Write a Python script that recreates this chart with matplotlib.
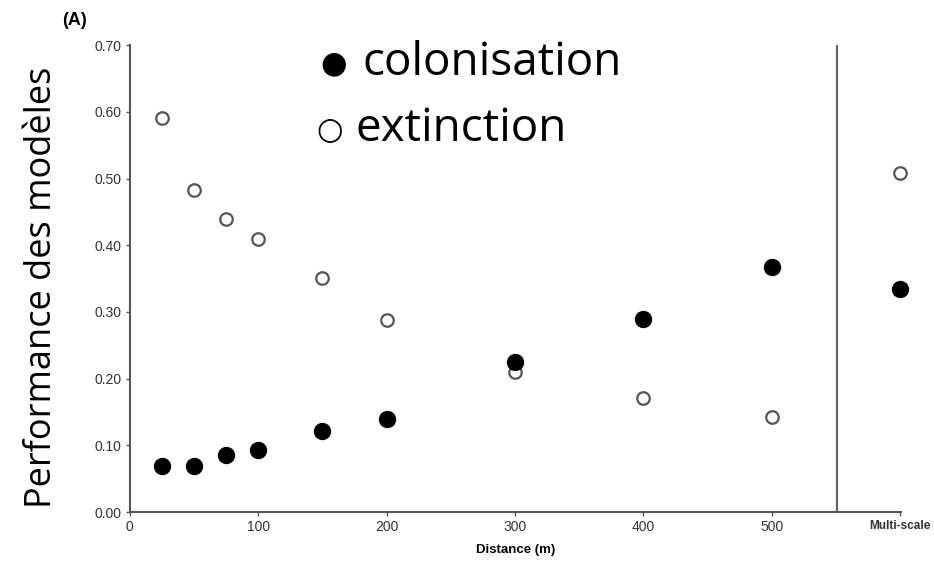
import matplotlib.pyplot as plt
import numpy as np

# distances (m); 600 stands for the "Multi-scale" column
distance = [25, 50, 75, 100, 150, 200, 300, 400, 500, 600]
colonisation = [0.069, 0.069, 0.085, 0.093, 0.121, 0.139, 0.225, 0.289, 0.368, 0.334]
extinction = [0.591, 0.483, 0.439, 0.409, 0.351, 0.288, 0.210, 0.171, 0.142, 0.508]

x_ticks = [0, 100, 200, 300, 400, 500, 600]
x_labels = ['0', '100', '200', '300', '400', '500', 'Multi-scale']
y_ticks = np.arange(0, 0.71, 0.1)
separator = 551

fig = plt.figure(figsize=(9.34, 5.64), dpi=100)
ax = fig.add_axes([0.139, 0.092, 0.826, 0.828])

ax.plot(distance, extinction, 'o', ms=9, mfc='white', mec='#555555', mew=1.6,
        linestyle='none', zorder=3, clip_on=False)
ax.plot(distance, colonisation, 'o', ms=11.5, mfc='black', mec='black',
        linestyle='none', zorder=4, clip_on=False)
ax.vlines(separator, 0, 0.70, color='#666666', lw=1.6)

ax.set_xlim(0, 601)
ax.set_ylim(0, 0.70)
ax.spines[['top', 'right']].set_visible(False)
for s in ['left', 'bottom']:
    ax.spines[s].set_color('#555555')
    ax.spines[s].set_linewidth(1.5)
ax.set_xticks(x_ticks)
ax.set_xticklabels(x_labels, fontsize=10, color='#333333', family='Liberation Sans')
ax.get_xticklabels()[-1].set_fontsize(8.5)
ax.get_xticklabels()[-1].set_fontweight('bold')
ax.set_yticks(y_ticks)
ax.set_yticklabels([f'{v:.2f}' for v in y_ticks], fontsize=10, color='#333333',
                   family='Liberation Sans')
ax.tick_params(direction='out', length=3, width=1, color='#555555', pad=3)

ax.set_xlabel('Distance (m)', fontsize=9.5, fontweight='bold', family='Liberation Sans',
              labelpad=7)
fig.text(0.045, 0.49, 'Performance des modèles', rotation=90, ha='center', va='center',
         fontsize=26, family='Open Sans')
fig.text(0.067, 0.963, '(A)', fontsize=13, fontweight='bold', family='Liberation Sans',
         ha='left', va='center')

# legend-like annotations
fig.text(0.343, 0.886, '●', fontsize=22, va='center', ha='left', family='DejaVu Sans')
fig.text(0.388, 0.888, 'colonisation', fontsize=33, va='center', family='Open Sans')
fig.text(0.339, 0.768, '○', fontsize=22, va='center', ha='left', family='DejaVu Sans')
fig.text(0.381, 0.771, 'extinction', fontsize=33, va='center', family='Open Sans')

fig.savefig('out.png', dpi=100)
